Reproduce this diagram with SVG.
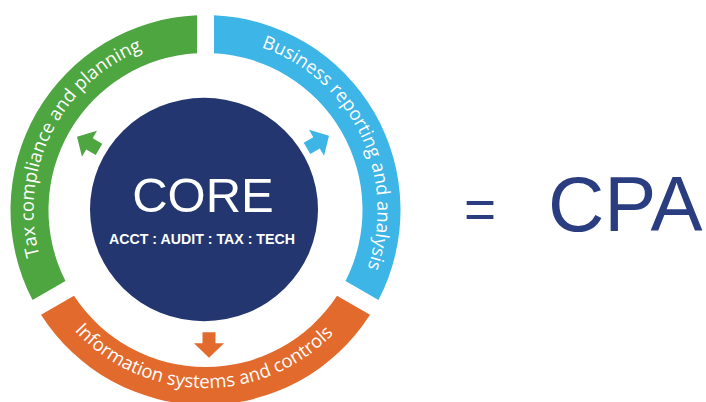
<svg xmlns="http://www.w3.org/2000/svg" xmlns:xlink="http://www.w3.org/1999/xlink" width="706" height="402" viewBox="0 0 706 402">
<style>
.arc-label{font-family:"Open Sans","Noto Sans",sans-serif;font-size:18.5px;fill:#ffffff;}
.green{fill:#4ea641;}
.blue{fill:#3db5e6;}
.orange{fill:#e26a2c;}
.navy{fill:#233670;}
.core-title{font-family:"Liberation Sans",Arial,sans-serif;font-size:49px;fill:#ffffff;}
.core-sub{font-family:"Liberation Sans",Arial,sans-serif;font-size:15.5px;font-weight:bold;fill:#ffffff;}
.cpa{font-family:"Liberation Sans",Arial,sans-serif;fill:#2a3d80;}
</style>
<defs>
<path id="arrow" d="M-12.7,-6.5 L-1.7,-6.5 L-1.7,-15 L12.7,0 L-1.7,15 L-1.7,6.5 L-12.7,6.5 Z"/>
<path id="tp-green" d="M56.54,296 A172,172 0 0 1 205.5,38"/>
<path id="tp-blue" d="M205.5,38 A172,172 0 0 1 354.46,296"/>
<path id="tp-orange" d="M51.35,299 A178,178 0 0 0 359.65,299"/>
</defs>
<rect width="706" height="402" fill="#ffffff"/>
<g id="tax">
<path class="green" d="M32.53,300.04 A195,195 0 0 1 196.99,15.19 L197.01,53.23 A157,157 0 0 0 65.49,281.03 Z"/>
<text class="arc-label"><textPath xlink:href="#tp-green" href="#tp-green" startOffset="169.6" text-anchor="middle">Tax compliance and planning</textPath></text>
</g>
<g id="business">
<path class="blue" d="M214.01,15.19 A195,195 0 0 1 378.47,300.04 L345.51,281.03 A157,157 0 0 0 213.99,53.23 Z"/>
<text class="arc-label"><textPath xlink:href="#tp-blue" href="#tp-blue" startOffset="192.9" text-anchor="middle">Business reporting and analysis</textPath></text>
</g>
<g id="information">
<path class="orange" d="M369.96,314.77 A195,195 0 0 1 41.04,314.77 L73.98,295.74 A157,157 0 0 0 337.02,295.74 Z"/>
<text class="arc-label"><textPath xlink:href="#tp-orange" href="#tp-orange" startOffset="184.2" text-anchor="middle">Information systems and controls</textPath></text>
</g>
<g id="core">
<ellipse class="navy" cx="204" cy="209.5" rx="114" ry="111.7"/>
<text class="core-title" x="203" y="212" text-anchor="middle">CORE</text>
<text class="core-sub" x="109" y="244" textLength="186" lengthAdjust="spacingAndGlyphs">ACCT : AUDIT : TAX : TECH</text>
</g>
<g id="connectors">
<use href="#arrow" xlink:href="#arrow" class="green" transform="translate(88,143) rotate(210)"/>
<use href="#arrow" xlink:href="#arrow" class="blue" transform="translate(318,142) rotate(-30)"/>
<use href="#arrow" xlink:href="#arrow" class="orange" transform="translate(209,345) rotate(90)"/>
</g>
<g id="cpa">
<text class="cpa" x="464" y="228" font-size="55">=</text>
<text class="cpa" x="548" y="231" font-size="78">CPA</text>
</g>
</svg>
